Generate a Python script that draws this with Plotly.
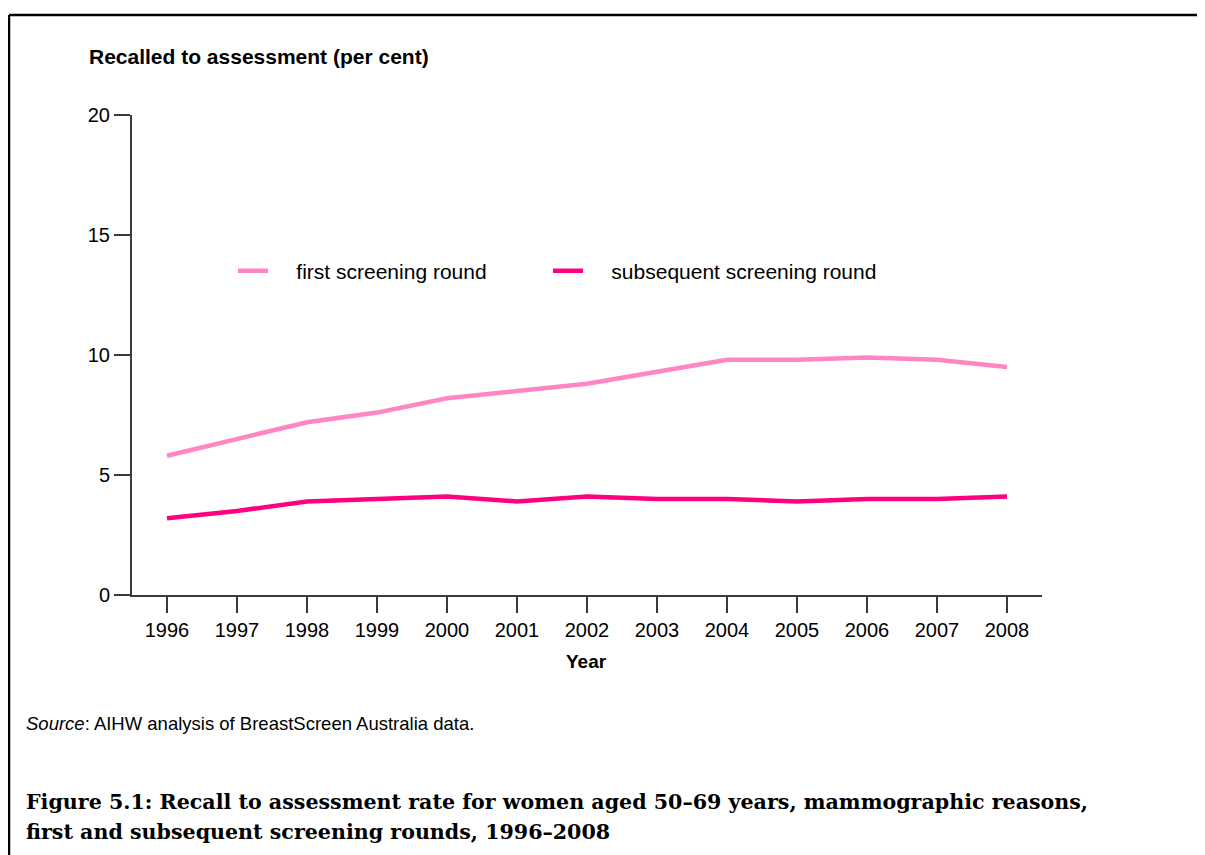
import plotly.graph_objects as go

years = [1996, 1997, 1998, 1999, 2000, 2001, 2002, 2003, 2004, 2005, 2006, 2007, 2008]
first_round = [5.8, 6.5, 7.2, 7.6, 8.2, 8.5, 8.8, 9.3, 9.8, 9.8, 9.9, 9.8, 9.5]
subsequent_round = [3.2, 3.5, 3.9, 4.0, 4.1, 3.9, 4.1, 4.0, 4.0, 3.9, 4.0, 4.0, 4.1]
y_ticks = [0, 5, 10, 15, 20]

OFF = 8  # page body margin
W, H = 1205 - OFF, 855 - OFF
L, R, T, B = 132 - OFF, 1042 - OFF, 115 - OFF, 595 - OFF  # plot area in figure pixels
pw, ph = R - L, B - T

def px(x):  # page x -> paper
    return (x - OFF - L) / pw

def py(y):  # page y -> paper
    return (B - (y - OFF)) / ph

SANS = "Liberation Sans, Arial, sans-serif"
SERIF = "DejaVu Serif, serif"
GAP = "\u00a0" * 4

fig = go.Figure()
fig.add_trace(go.Scatter(x=years, y=first_round, mode="lines", name=GAP + "first screening round",
                         line=dict(color="#FF85C4", width=4.5), legend="legend"))
fig.add_trace(go.Scatter(x=years, y=subsequent_round, mode="lines", name=GAP + "subsequent screening round",
                         line=dict(color="#FF0080", width=4.5), legend="legend2"))

legend_common = dict(orientation="h", yanchor="middle", xanchor="left", bgcolor="rgba(0,0,0,0)",
                     font=dict(family=SANS, size=21, color="black"))

fig.update_layout(
    width=W, height=H,
    margin=dict(l=L, r=W - R, t=T, b=H - B, pad=0),
    paper_bgcolor="white", plot_bgcolor="white",
    font=dict(family=SANS, size=20, color="black"),
    showlegend=True,
    legend=dict(x=px(233), y=py(271), **legend_common),
    legend2=dict(x=px(548), y=py(271), **legend_common),
)
fig.update_xaxes(range=[1995.5, 2008.5], tickvals=years, ticktext=[str(y) for y in years],
                 showgrid=False, zeroline=False, showline=True, linecolor="#3a3a3a", linewidth=2,
                 ticks="outside", ticklen=16, tickwidth=1.5, tickcolor="#3a3a3a",
                 tickfont=dict(family=SANS, size=20, color="black"), fixedrange=True)
fig.update_yaxes(range=[0, 20], tickvals=y_ticks, showgrid=False, zeroline=False,
                 showline=True, linecolor="#3a3a3a", linewidth=2,
                 ticks="outside", ticklen=16, tickwidth=1.5, tickcolor="#3a3a3a",
                 tickfont=dict(family=SANS, size=20, color="black"), fixedrange=True)

# frame (top and left rules)
fig.add_shape(type="line", xref="paper", yref="paper", x0=px(9), x1=px(1210), y0=py(15), y1=py(15),
              line=dict(color="black", width=2.5))
fig.add_shape(type="line", xref="paper", yref="paper", x0=px(9), x1=px(9), y0=py(15), y1=py(860),
              line=dict(color="black", width=2.5))

fig.add_annotation(xref="paper", yref="paper", x=px(87), y=py(57), xanchor="left", yanchor="middle",
                   text="<b>Recalled to assessment (per cent)</b>", showarrow=False,
                   font=dict(family=SANS, size=21, color="black"))
fig.add_annotation(xref="paper", yref="paper", x=px(586), y=py(661), xanchor="center", yanchor="middle",
                   text="<b>Year</b>", showarrow=False, font=dict(family=SANS, size=19, color="black"))
fig.add_annotation(xref="paper", yref="paper", x=px(24), y=py(723), xanchor="left", yanchor="middle",
                   text="<i>Source</i>: AIHW analysis of BreastScreen Australia data.", showarrow=False,
                   font=dict(family=SANS, size=18.5, color="black"))
fig.add_annotation(xref="paper", yref="paper", x=px(24), y=py(802), xanchor="left", yanchor="middle",
                   text="<b>Figure 5.1: Recall to assessment rate for women aged 50–69 years, mammographic reasons,</b>",
                   showarrow=False, font=dict(family=SERIF, size=20.6, color="black"))
fig.add_annotation(xref="paper", yref="paper", x=px(24), y=py(832), xanchor="left", yanchor="middle",
                   text="<b>first and subsequent screening rounds, 1996–2008</b>",
                   showarrow=False, font=dict(family=SERIF, size=20.6, color="black"))

fig.write_html("out.html")
